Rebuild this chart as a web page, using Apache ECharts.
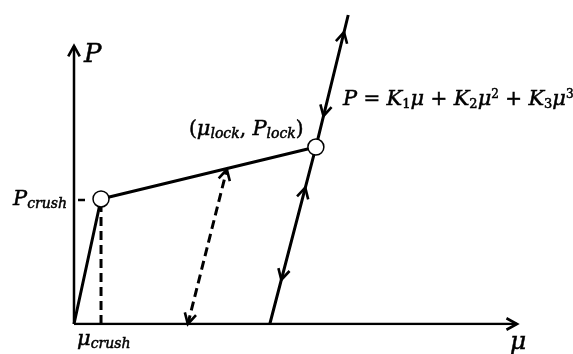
<!DOCTYPE html>
<html><head><meta charset="utf-8">
<script src="https://cdn.jsdelivr.net/npm/echarts@6/dist/echarts.min.js"></script>
<style>html,body{margin:0;padding:0;background:#fff}#c{width:573px;height:354px}</style>
</head><body><div id="c"></div>
<script>
// Data units: mu on 0..100, P on 0..110
const origin = [0, 0];
const crushPoint = [6.1, 44.5];
const lockPoint = [54.6, 63.0];
const upperPoint = [61.9, 110];
const unloadFoot = [44.2, 0];
const reloadFoot = [25.7, 0];
const reloadTop = [34.5, 55.0];
const xAxisEnd = [100, 0];
const yAxisEnd = [0, 99];
const crushFoot = [6.1, 0];

const loadingPath = [origin, crushPoint, lockPoint];
const lockedPath = [unloadFoot, lockPoint, upperPoint];
const crushDrop = [crushFoot, crushPoint];
const reloadPath = [reloadFoot, reloadTop];
const xAxisPath = [origin, xAxisEnd];
const yAxisPath = [origin, yAxisEnd];
const markedPoints = [crushPoint, lockPoint];

// arrowheads: segment start, segment end, fraction along it, +1 points to end / -1 points to start
const arrowSegments = [
  [lockPoint, upperPoint, 0.87, 1],
  [lockPoint, upperPoint, 0.235, -1],
  [unloadFoot, lockPoint, 0.77, 1],
  [unloadFoot, lockPoint, 0.25, -1],
  [reloadFoot, reloadTop, 0.0, -1],
  [reloadFoot, reloadTop, 1.0, 1],
  [origin, xAxisEnd, 1.0, 1],
  [origin, yAxisEnd, 1.0, 1]
];

const chart = echarts.init(document.getElementById('c'), null, {renderer: 'canvas'});
const solid = {color: '#000', width: 3};
const serif = 'DejaVu Serif';
const thick = {stroke: '#000', lineWidth: 0.5};
function lineSeries(data, style, z) {
  return {type: 'line', data: data, symbol: 'none', lineStyle: style, z: z || 2, silent: true};
}
const subStyle = Object.assign({fontSize: 14, fontStyle: 'italic', fontFamily: serif, fill: '#000', lineHeight: 14, verticalAlign: 'bottom', padding: [8, 0, 0, 0]}, thick);
const numSub = Object.assign({fontSize: 13, fontFamily: serif, fill: '#000', lineHeight: 14, verticalAlign: 'bottom', padding: [8, 0, 0, 0]}, thick);
const supStyle = Object.assign({fontSize: 12, fontFamily: serif, fill: '#000', lineHeight: 13, verticalAlign: 'top'}, thick);
const mainStyle = Object.assign({fontSize: 21, fontStyle: 'italic', fontFamily: serif, fill: '#000', lineHeight: 22}, thick);
const upStyle = Object.assign({fontSize: 20, fontFamily: serif, fill: '#000', lineHeight: 22}, thick);
const rich = {m: mainStyle, s: subStyle, n: numSub, p: supStyle, u: upStyle};

function txt(x, y, text, align, extra) {
  return {type: 'text', x: x, y: y, silent: true,
    style: Object.assign({text: text, rich: rich, align: align || 'left', verticalAlign: 'middle', fill: '#000'}, extra || {})};
}

chart.setOption({
  animation: false,
  backgroundColor: '#fff',
  grid: {left: 74, right: 56, top: 15, bottom: 30},
  xAxis: {type: 'value', min: 0, max: 100, show: false},
  yAxis: {type: 'value', min: 0, max: 110, show: false},
  series: [
    lineSeries(xAxisPath, {color: '#000', width: 2.5}),
    lineSeries(yAxisPath, {color: '#000', width: 2.5}),
    lineSeries(loadingPath, solid),
    lineSeries(lockedPath, solid),
    lineSeries(crushDrop, {color: '#000', width: 3, type: [9, 5]}),
    lineSeries(reloadPath, {color: '#000', width: 3, type: [9, 5]}),
    {
      type: 'custom', silent: true, clip: false, z: 3,
      data: arrowSegments.map(a => [a[0][0], a[0][1], a[1][0], a[1][1], a[2], a[3]]),
      encode: {x: [0, 2], y: [1, 3]},
      renderItem: function (params, api) {
        const p1 = api.coord([api.value(0), api.value(1)]);
        const p2 = api.coord([api.value(2), api.value(3)]);
        const t = api.value(4), dir = api.value(5);
        const tip = [p1[0] + t * (p2[0] - p1[0]), p1[1] + t * (p2[1] - p1[1])];
        let dx = (p2[0] - p1[0]) * dir, dy = (p2[1] - p1[1]) * dir;
        const len = Math.hypot(dx, dy); dx /= len; dy /= len;
        const L = 12, ang = 0.5;
        const arm = s => {
          const c = Math.cos(s * ang), sn = Math.sin(s * ang);
          const rx = dx * c - dy * sn, ry = dx * sn + dy * c;
          return [tip[0] - L * rx, tip[1] - L * ry];
        };
        return {type: 'polyline', shape: {points: [arm(1), tip, arm(-1)]},
          style: {stroke: '#000', lineWidth: 2.6, fill: null, lineJoin: 'miter'}};
      }
    },
    {
      type: 'scatter', data: markedPoints, symbol: 'circle', symbolSize: 16, z: 5, silent: true,
      itemStyle: {color: '#fff', borderColor: '#000', borderWidth: 1.5, opacity: 1}
    }
  ],
  graphic: [
    txt(84, 55, '{m|P}', 'left', {rich: Object.assign({}, rich, {m: Object.assign({}, mainStyle, {fontSize: 26, lineHeight: 28})})}),
    txt(518, 342, '{m|μ}', 'center', {rich: Object.assign({}, rich, {m: Object.assign({}, mainStyle, {fontSize: 25, lineHeight: 26})})}),
    txt(67, 200, '{m|P}{s|crush}', 'right'),
    {type: 'line', silent: true, shape: {x1: 78, y1: 200, x2: 85, y2: 200}, style: {stroke: '#000', lineWidth: 2.5}},
    txt(77, 340, '{m|μ}{s|crush}', 'left'),
    txt(189, 130, '{u|(}{m|μ}{s|lock}{u|, }{m|P}{s|lock}{u|)}', 'left'),
    txt(343, 100, '{m|P}{u| = }{m|K}{n|1}{m|μ}{u| + }{m|K}{n|2}{m|μ}{p|2}{u| + }{m|K}{n|3}{m|μ}{p|3}', 'left')
  ]
});
</script>
</body></html>
